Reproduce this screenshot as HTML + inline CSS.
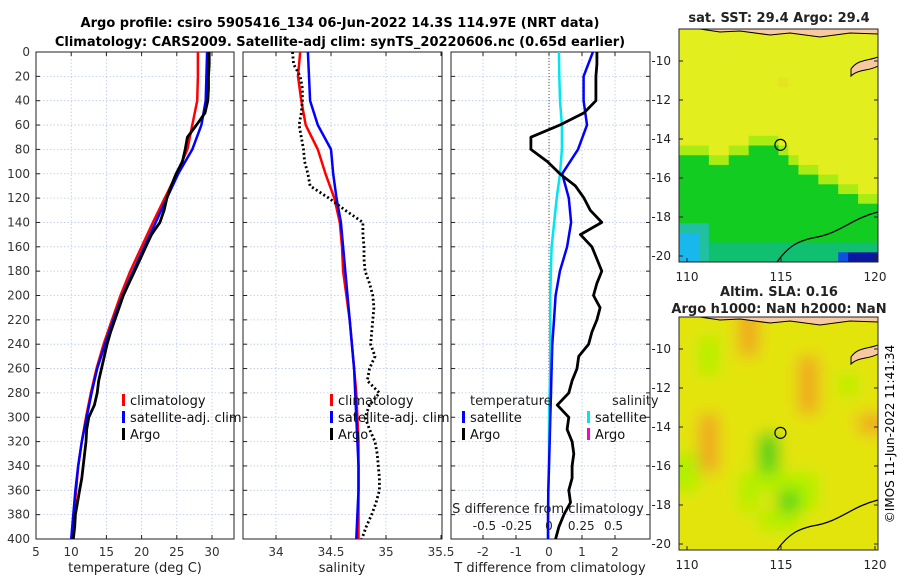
<!DOCTYPE html>
<html><head><meta charset="utf-8"><style>
body{margin:0;background:#fff;}
svg{display:block;font-family:"DejaVu Sans","Liberation Sans",sans-serif;}
</style></head><body>
<svg id="fig" width="900" height="580" viewBox="0 0 900 580" xmlns="http://www.w3.org/2000/svg">
<defs>
<clipPath id="c1"><rect x="36" y="52" width="198" height="487"/></clipPath>
<clipPath id="c2"><rect x="243" y="52" width="199" height="487"/></clipPath>
<clipPath id="c3"><rect x="451" y="52" width="199" height="487"/></clipPath>
<clipPath id="cm1"><rect x="679" y="29" width="199" height="233"/></clipPath>
<clipPath id="cm2"><rect x="679" y="317" width="199" height="233"/></clipPath>
<filter id="blur" x="-10%" y="-10%" width="120%" height="120%"><feGaussianBlur stdDeviation="8"/></filter>
</defs>
<text x="340" y="27" text-anchor="middle" font-size="13" font-weight="bold">Argo profile: csiro 5905416_134 06-Jun-2022 14.3S 114.97E (NRT data)</text>
<text x="340" y="46" text-anchor="middle" font-size="13" font-weight="bold">Climatology: CARS2009. Satellite-adj clim: synTS_20220606.nc (0.65d earlier)</text>
<g id="g1"></g>
<g id="g2"></g>
<g id="g3"></g>
<g id="m1"></g>
<g id="m2"></g>
<text transform="translate(894,434) rotate(-90)" text-anchor="middle" font-size="12">©IMOS 11-Jun-2022 11:41:34</text>
</svg>
<script>
const depth20 = [0,20,40,60,80,100,120,140,160,180,200,220,240,260,280,300,320,340,360,380,400];
const depth10 = [0,10,20,30,40,50,60,70,80,90,100,110,120,130,140,150,160,170,180,190,200,210,220,230,240,250,260,270,280,290,300,310,320,330,340,350,360,370,380,390,400];
const tempClim = [28.0,28.0,27.9,27.2,26.5,25.0,23.3,21.6,20.0,18.4,17.0,15.8,14.6,13.6,12.8,12.1,11.5,11.0,10.7,10.4,10.1];
const tempSat = [29.3,29.2,29.1,28.5,27.2,25.2,23.6,22.0,20.4,18.8,17.3,16.0,14.8,13.7,12.9,12.2,11.5,11.0,10.6,10.3,10.0];
const tempArgo = [29.6,29.6,29.5,29.5,29.4,29.0,27.8,26.5,26.2,25.8,24.9,24.2,23.6,23.2,22.6,21.4,20.6,19.8,19.0,18.2,17.4,16.8,16.2,15.6,15.1,14.7,14.3,13.9,13.7,13.3,12.5,12.2,12.1,11.9,11.7,11.5,11.2,10.9,10.6,10.5,10.3];
const salClim = [34.22,34.20,34.23,34.27,34.38,34.45,34.53,34.58,34.60,34.61,34.64,34.67,34.69,34.71,34.73,34.74,34.75,34.75,34.75,34.75,34.75];
const salSat = [34.29,34.30,34.31,34.38,34.50,34.52,34.55,34.59,34.61,34.63,34.65,34.67,34.69,34.71,34.72,34.73,34.74,34.75,34.75,34.74,34.73];
const salArgo = [34.15,34.16,34.22,34.24,34.24,34.23,34.21,34.23,34.25,34.26,34.29,34.31,34.48,34.63,34.79,34.79,34.80,34.80,34.81,34.85,34.88,34.89,34.88,34.87,34.86,34.90,34.85,34.83,34.94,34.85,34.81,34.85,34.90,34.92,34.93,34.94,34.94,34.91,34.87,34.82,34.78];
const tDiffSat = [1.33,1.05,1.05,1.15,0.88,0.4,0.6,0.67,0.55,0.33,0.2,0.15,0.1,0.08,0.06,0.04,0.02,0.0,-0.02,-0.03,-0.03];
const tDiffArgo = [1.45,1.45,1.42,1.42,1.42,1.06,0.33,-0.55,-0.55,-0.05,0.33,0.8,1.06,1.25,1.6,0.95,1.3,1.45,1.6,1.45,1.35,1.55,1.45,1.3,1.2,0.9,0.85,0.7,0.6,0.25,0.6,0.55,0.7,0.75,0.7,0.7,0.6,0.65,0.45,0.3,0.2];
const sDiffSat = [0.077,0.08,0.085,0.1,0.1,0.085,0.06,0.04,0.02,0.015,0.01,0.01,0.01,0.01,0.005,0.0,0.0,0.0,-0.005,-0.005,-0.008];
const depthTicks = [0,20,40,60,80,100,120,140,160,180,200,220,240,260,280,300,320,340,360,380,400];
const tempTicks = [5,10,15,20,25,30];
const salTicks = [34,34.5,35,35.5];
const tDiffTicks = [-2,-1,0,1,2];
const sDiffTicks = ["-0.5","-0.25","0","0.25","0.5"];
const sstRows = ["yyyyyyyyyyyyyyyyyyyy","yyyyyyyyyyyyyyyyyyyy","yyyyyyyyyyyyyyyyyyyy","yyyyyyyyyyyyyyyyyyyy","yyyyyyyyyyyyyyyyyyyy","yyyyyyyyyyoyyyyyyyyy","yyyyyyyyyyyyyyyyyyyy","yyyyyyyyyyyyyyyyyyyy","yyyyyyyyyyyyyyyyyyyy","yyyyyyyyyyyyyyyyyyyy","yyyyyyyyyyyyyyyyyyyy","yyyyyyylllyyyyyyyyyy","lllyyllggglyyyyyyyyy","gggllgggggglyyyyyyyy","ggggggggggggllyyyyyy","ggggggggggggggllyyyy","ggggggggggggggggllyy","ggggggggggggggggggll","gggggggggggggggggggg","gggggggggggggggggggg","cccggggggggggggggggg","CCcggggggggggggggggg","CCcGGGGGGGGGGGGGGGGG","CCcGGGGGGGGGGGGGBbbb"];
const slaRows = ["yyyoyyyyyy","ygyoyyyyyy","ygyyyyoyyy","yyyyyyoygy","yyyyyyoyyy","yoyyyyyyyo","yoyyGyyyyy","goyyGyyyyy","gyyggggyyy","yyygyGgyyy","yyyyggyyyy","yyyyyyyyyy"];
const latTicks = [-10,-12,-14,-16,-18,-20];
const lonTicks = [110,115,120];
const argoLon = 114.97, argoLat = -14.3;

const NS = "http://www.w3.org/2000/svg";
function mk(parent, tag, attrs){const e=document.createElementNS(NS,tag);for(const k in attrs)e.setAttribute(k,attrs[k]);parent.appendChild(e);return e;}
const Y0=52, Y1=539;
const yD = d => Y0 + d/400*(Y1-Y0);

function panel(g, x0, x1, xs, ticks, fmt){
  const gridG = mk(g,'g',{});
  
  
  depthTicks.forEach(d=>{ if(d>0&&d<400) mk(gridG,'line',{x1:x0,x2:x1,y1:yD(d),y2:yD(d),stroke:'#b8c8e8','stroke-width':0.8,'stroke-dasharray':'1.5,2'});
    mk(g,'line',{x1:x0,x2:x0+4,y1:yD(d),y2:yD(d),stroke:'#222'});
    mk(g,'line',{x1:x1-4,x2:x1,y1:yD(d),y2:yD(d),stroke:'#222'});});
  ticks.forEach(t=>{const x=xs(t); if(x>x0+1&&x<x1-1){mk(gridG,'line',{x1:x,x2:x,y1:Y0,y2:Y1,stroke:'#b8c8e8','stroke-width':0.8,'stroke-dasharray':'1.5,2'});}
    mk(g,'line',{x1:x,x2:x,y1:Y1,y2:Y1-4,stroke:'#222'});mk(g,'line',{x1:x,x2:x,y1:Y0,y2:Y0+4,stroke:'#222'});
    const tx=mk(g,'text',{x:x,y:556,'text-anchor':'middle','font-size':12,fill:'#333'});tx.textContent=fmt(t);
    
    });
  const fr=mk(g,'rect',{x:x0,y:Y0,width:x1-x0,height:Y1-Y0,fill:'none',stroke:'#222','stroke-width':1});
  
  
}
function line(g, xs, vals, deps, color, w, dash, clip, name){
  const pts = vals.map((v,i)=>xs(v).toFixed(1)+','+yD(deps[i]).toFixed(1)).join(' ');
  const p = mk(g,'polyline',{points:pts,fill:'none',stroke:color,'stroke-width':w,'clip-path':'url(#'+clip+')','stroke-linejoin':'round'});
  if(dash) p.setAttribute('stroke-dasharray',dash);
  
  
}
function legend(g, x, y, items){
  items.forEach((it,i)=>{
    const r=mk(g,'rect',{x:x,y:y+i*17-11,width:3,height:12,fill:it[1]});
    
    
    const t=mk(g,'text',{x:x+8,y:y+i*17,'font-size':13,fill:'#111'});t.textContent=it[0];
    
    
  });
}
function label(g,x,y,txt,name,anchor,size){const t=mk(g,'text',{x:x,y:y,'text-anchor':anchor||'middle','font-size':size||13,fill:'#222'});t.textContent=txt;
  
  return t;}

// Panel 1
const g1=document.getElementById('g1');
const xT = t => 36 + (t-5)*35.2/5;
panel(g1,36,234,xT,tempTicks,t=>String(t));
depthTicks.forEach(d=>{const t=label(g1,30,yD(d)+4,String(d),'y-tick-label','end',12);t.setAttribute('fill','#333');});
line(g1,xT,tempClim,depth20,'#ff0000',2.5,null,'c1','temp-climatology-line');
line(g1,xT,tempSat,depth20,'#0000ff',2.5,null,'c1','temp-satellite-line');
line(g1,xT,tempArgo,depth10,'#000',2.8,null,'c1','temp-argo-line');
legend(g1,122,405,[['climatology','#ff0000'],['satellite-adj. clim','#0000ff'],['Argo','#000']]);
label(g1,135,572,'temperature (deg C)','x-axis-title');

// Panel 2
const g2=document.getElementById('g2');
const xS = s => 276 + (s-34)*110;
panel(g2,243,442,xS,salTicks,t=>String(t));
line(g2,xS,salClim,depth20,'#ff0000',2.5,null,'c2','sal-climatology-line');
line(g2,xS,salSat,depth20,'#0000ff',2.5,null,'c2','sal-satellite-line');
line(g2,xS,salArgo,depth10,'#000',2.8,'2,2.5','c2','sal-argo-line');
legend(g2,330,405,[['climatology','#ff0000'],['satellite-adj. clim','#0000ff'],['Argo','#000']]);
label(g2,342,572,'salinity','x-axis-title');

// Panel 3
const g3=document.getElementById('g3');
const xTD = d => 549 + d*33;
const xSD = d => 549 + d*129;
panel(g3,451,650,xTD,tDiffTicks,t=>String(t));
mk(g3,'line',{x1:549,x2:549,y1:Y0,y2:Y1,stroke:'#555','stroke-dasharray':'1,2','stroke-width':1});
line(g3,xSD,sDiffSat,depth20,'#00e5ee',2.5,null,'c3','sal-diff-satellite-line');
line(g3,xTD,tDiffSat,depth20,'#0000ff',2.5,null,'c3','temp-diff-satellite-line');
line(g3,xTD,tDiffArgo,depth10,'#000',2.8,null,'c3','temp-diff-argo-line');
label(g3,470,405,'temperature','legend-title-temperature','start');
label(g3,612,405,'salinity','legend-title-salinity','start');
legend(g3,462,422,[['satellite','#0000ff'],['Argo','#000']]);
legend(g3,587,422,[['satellite','#00e5ee'],['Argo','#ff00cc']]);
label(g3,548,513,'S difference from climatology','secondary-axis-title');
sDiffTicks.forEach(v=>{label(g3,xSD(parseFloat(v)),530,v,'secondary-tick-label','middle',12);});
label(g3,550,572,'T difference from climatology','x-axis-title');

// Maps
const colSST={y:'#e2ee1e',o:'#e6e41e',l:'#a8ec14',g:'#12cc22',G:'#10c070',c:'#20c0a0',C:'#18b8ee',b:'#0818a0',B:'#1050e0',L:'#f8c8a0'};
const colSLA={y:'#e4e40a',o:'#f0a420',g:'#b0f000',G:'#20d018',L:'#f8c8a0'};
function mapAxes(g,X0,Ytop){
  const lonX = lon => X0+8 + (lon-110)*18.8;
  const latY = lat => Ytop+32 + (-10-lat)*19.5;
  latTicks.forEach(l=>{const y=latY(l);mk(g,'line',{x1:X0,x2:X0+4,y1:y,y2:y,stroke:'#222'});mk(g,'line',{x1:X0+195,x2:X0+199,y1:y,y2:y,stroke:'#222'});
    label(g,X0-8,y+4,String(l),'lat-tick-label','end',12);});
  lonTicks.forEach(l=>{const x=lonX(l);mk(g,'line',{x1:x,x2:x,y1:Ytop+233,y2:Ytop+229,stroke:'#222'});
    label(g,x,Ytop+252,String(l),'lon-tick-label','middle',12);});
  const c=mk(g,'circle',{cx:lonX(argoLon),cy:latY(argoLat),r:5.5,fill:'none',stroke:'#000','stroke-width':1.2});
  
  
  const f=mk(g,'rect',{x:X0,y:Ytop,width:199,height:233,fill:'none',stroke:'#222'});
  
  
}
function coast(g,Ytop,clip){
  const p=mk(g,'path',{d:`M777 ${Ytop+233} C790 ${Ytop+215} 800 ${Ytop+212} 812 ${Ytop+209} C840 ${Ytop+205} 850 ${Ytop+190} 878 ${Ytop+183}`,fill:'none',stroke:'#000','stroke-width':1.3,'clip-path':'url(#'+clip+')'});
  
  
  const q=mk(g,'path',{d:`M851 ${Ytop+47} C858 ${Ytop+40} 870 ${Ytop+42} 878 ${Ytop+37} L878 ${Ytop+28} C868 ${Ytop+32} 858 ${Ytop+30} 851 ${Ytop+40} Z`,fill:'#f8c8a0',stroke:'#000','stroke-width':1});
  
  
  const r=mk(g,'path',{d:`M700 ${Ytop} L720 ${Ytop+3} L740 ${Ytop+2} L770 ${Ytop+6} L790 ${Ytop+4} L820 ${Ytop+8} L850 ${Ytop+4} L878 ${Ytop+5} L878 ${Ytop} Z`,fill:'#f8c8a0',stroke:'#000','stroke-width':1});
  
  
}
const m1=document.getElementById('m1');
const cells1=mk(m1,'g',{'clip-path':'url(#cm1)'});
sstRows.forEach((row,r)=>{[...row].forEach((ch,c)=>{
  const e=mk(cells1,'rect',{x:679+c*9.95,y:29+r*233/24,width:10.5,height:10.2,fill:colSST[ch]});
  
  
});});
coast(m1,29,'cm1');
mapAxes(m1,679,29);
label(m1,779,22,'sat. SST: 29.4 Argo: 29.4','sst-map-title','middle',13).setAttribute('font-weight','bold');

const m2=document.getElementById('m2');
const clipG=mk(m2,'g',{'clip-path':'url(#cm2)'});
mk(clipG,'rect',{x:679,y:317,width:199,height:233,fill:colSLA.y});
const cells2=mk(clipG,'g',{filter:'url(#blur)'});
slaRows.forEach((row,r)=>{[...row].forEach((ch,c)=>{
  const e=mk(cells2,'rect',{x:679+c*19.9-(c==0?10:0),y:317+r*233/12-(r==0?10:0),width:20.5+(c==0||c==9?10:0),height:20+(r==0||r==11?10:0),fill:colSLA[ch]});
  
  
});});
coast(m2,317,'cm2');
mapAxes(m2,679,317);
label(m2,779,296,'Altim. SLA: 0.16','sla-map-title','middle',13).setAttribute('font-weight','bold');
label(m2,779,313,'Argo h1000: NaN h2000: NaN','sla-map-subtitle','middle',13).setAttribute('font-weight','bold');
</script>
</body></html>
